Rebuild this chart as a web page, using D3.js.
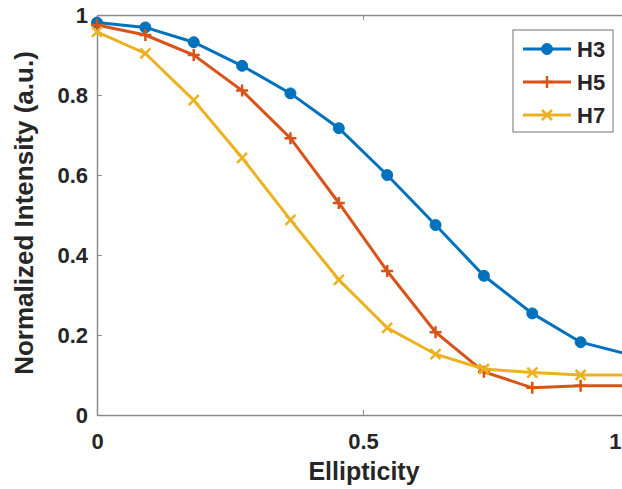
<!DOCTYPE html>
<html><head><meta charset="utf-8">
<script src="https://cdn.jsdelivr.net/npm/d3@7"></script>
<style>body{margin:0;background:#fff;} text{font-family:"Liberation Sans",Arial,sans-serif;font-weight:bold;fill:#262626;}</style>
</head><body>
<script>
const xValues = [0, 1/11, 2/11, 3/11, 4/11, 5/11, 6/11, 7/11, 8/11, 9/11, 10/11, 1];
const h3 = [0.981, 0.969, 0.932, 0.873, 0.804, 0.717, 0.600, 0.475, 0.348, 0.254, 0.182, 0.151];
const h5 = [0.975, 0.950, 0.900, 0.811, 0.692, 0.530, 0.360, 0.207, 0.108, 0.068, 0.073, 0.073];
const h7 = [0.958, 0.904, 0.787, 0.643, 0.488, 0.338, 0.218, 0.152, 0.115, 0.106, 0.100, 0.100];
const seriesNames = ["H3", "H5", "H7"];
const xTicks = [0, 0.5, 1];
const yTicks = [0, 0.2, 0.4, 0.6, 0.8, 1];

const W = 622, H = 489;
const svg = d3.select("body").append("svg").attr("width", W).attr("height", H);
const x = d3.scaleLinear().domain([0, 1]).range([97, 629]);
const y = d3.scaleLinear().domain([0, 1]).range([415, 15]);
const axisColor = "#8a8a8a";

const g = svg.append("g");
g.append("g").attr("transform", "translate(0,415)")
  .call(d3.axisBottom(x).tickValues(xTicks).tickFormat(d3.format("~g")).tickSizeInner(-5).tickSizeOuter(0).tickPadding(18))
  .call(a => { a.select(".domain").attr("stroke", axisColor).attr("stroke-width", 1.5); a.selectAll("line").attr("stroke", axisColor);
               a.selectAll("text").attr("font-size", 22).attr("fill", "#262626")
                 .filter(d => d === 1).attr("text-anchor", "end").attr("dx", (621 - x(1)) + "px"); });
g.append("g").attr("transform", "translate(0,15)")
  .call(d3.axisTop(x).tickValues(xTicks).tickFormat("").tickSizeInner(-5).tickSizeOuter(0))
  .call(a => { a.select(".domain").attr("stroke", axisColor).attr("stroke-width", 1.5); a.selectAll("line").attr("stroke", axisColor); });
g.append("g").attr("transform", "translate(97,0)")
  .call(d3.axisLeft(y).tickValues(yTicks).tickFormat(d3.format("~g")).tickSizeInner(-5).tickSizeOuter(0).tickPadding(9))
  .call(a => { a.select(".domain").attr("stroke", axisColor).attr("stroke-width", 1.5); a.selectAll("line").attr("stroke", axisColor);
               a.selectAll("text").attr("font-size", 22).attr("fill", "#262626"); });
g.append("g").attr("transform", "translate(629,0)")
  .call(d3.axisRight(y).tickValues(yTicks).tickFormat("").tickSizeInner(-5).tickSizeOuter(0))
  .call(a => { a.select(".domain").attr("stroke", axisColor).attr("stroke-width", 1.5); a.selectAll("line").attr("stroke", axisColor); });

svg.append("text").attr("x", 364).attr("y", 480).attr("text-anchor", "middle").attr("font-size", 25).text("Ellipticity");
svg.append("text").attr("transform", "translate(33,213) rotate(-90)").attr("text-anchor", "middle").attr("font-size", 26).text("Normalized Intensity (a.u.)");

const colors = ["#0072BD", "#D95319", "#EDB120"];
const data = [h3, h5, h7];
const line = d3.line().x((d, i) => x(xValues[i])).y(d => y(d));

function marker(sel, k, cx, cy) {
  if (k === 0) {
    sel.append("circle").attr("cx", cx).attr("cy", cy).attr("r", 5.5).attr("fill", colors[k]).attr("stroke", colors[k]);
  } else if (k === 1) {
    const s = 6;
    sel.append("path").attr("d", `M${cx - s},${cy}H${cx + s}M${cx},${cy - s}V${cy + s}`).attr("stroke", colors[k]).attr("stroke-width", 2.5).attr("fill", "none");
  } else {
    const s = 5;
    sel.append("path").attr("d", `M${cx - s},${cy - s}L${cx + s},${cy + s}M${cx - s},${cy + s}L${cx + s},${cy - s}`).attr("stroke", colors[k]).attr("stroke-width", 2.5).attr("fill", "none");
  }
}

data.forEach((vals, k) => {
  const sg = svg.append("g");
  sg.append("path").datum(vals).attr("d", line).attr("fill", "none").attr("stroke", colors[k]).attr("stroke-width", 3);
  vals.forEach((v, i) => marker(sg, k, x(xValues[i]), y(v)));
});

const lg = svg.append("g");
lg.append("rect").attr("x", 513).attr("y", 30).attr("width", 100).attr("height", 102).attr("fill", "#fff").attr("stroke", "#8a8a8a").attr("stroke-width", 1.2);
const legY = [49, 82, 115];
seriesNames.forEach((n, k) => {
  lg.append("line").attr("x1", 523).attr("x2", 571).attr("y1", legY[k]).attr("y2", legY[k]).attr("stroke", colors[k]).attr("stroke-width", 3);
  marker(lg, k, 547, legY[k]);
  lg.append("text").attr("x", 577).attr("y", legY[k] + 8).attr("font-size", 22).attr("fill", "#000").text(n);
});
</script>
</body></html>
